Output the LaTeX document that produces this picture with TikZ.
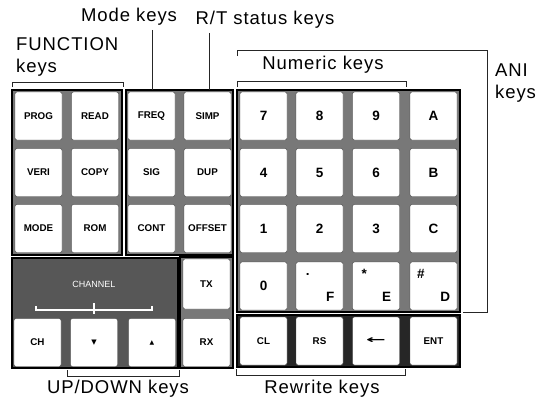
\documentclass[tikz,border=0pt]{standalone}
\usepackage{fontspec}
\setmainfont{Liberation Sans}
\newfontfamily\lblfont[LetterSpace=5]{Liberation Sans}
\newfontfamily\symfont{DejaVu Sans}
\usetikzlibrary{positioning, calc}

\definecolor{keygap}{gray}{0.47}
\definecolor{chanbg}{gray}{0.34}

\begin{document}
\begin{tikzpicture}[x=1pt, y=-1pt]
    \tikzstyle{keybox} = [rectangle, draw=black!75, fill=white, rounded corners=2pt,
                          minimum width=47pt, minimum height=48pt, inner sep=0pt,
                          font=\bfseries\fontsize{9.8}{11}\selectfont]
    \tikzstyle{numkey} = [keybox, font=\bfseries\fontsize{13.5}{14}\selectfont]
    \tikzstyle{blockbg} = [draw=black, line width=1.6pt, fill=keygap]
    \tikzstyle{lbl} = [font=\lblfont\fontsize{18.5}{22}\selectfont, inner sep=0pt]
    \tikzstyle{brk} = [draw=black!85, line width=0.8pt]
    \tikzstyle{corner} = [font=\bfseries\fontsize{13.5}{14}\selectfont, inner sep=0pt]

    \useasboundingbox (0,0) rectangle (543,397);

    % backing plates
    \draw[blockbg] (12,90) rectangle (122,255);
    \draw[blockbg] (126,90) rectangle (233,255);
    \draw[blockbg] (237,90) rectangle (460,312);
    \draw[blockbg, fill=black!85] (237,315) rectangle (460,367);
    \draw[blockbg, fill=chanbg] (12,258) rectangle (178,368);
    \draw[blockbg] (180,257) rectangle (233,368);

    % FUNCTION keys
    \node [keybox] (prog) at (38.5,116) {PROG};
    \node [keybox] (read) at (95,116) {READ};
    \node [keybox] (veri) at (38.5,172.5) {VERI};
    \node [keybox] (copy) at (95,172.5) {COPY};
    \node [keybox] (mode) at (38.5,228.5) {MODE};
    \node [keybox] (rom) at (95,228.5) {ROM};

    % mode and R/T status keys
    \node [keybox] (freq) at (151.5,116) {FREQ};
    \node [keybox] (simp) at (207.5,116) {SIMP};
    \node [keybox] (sig) at (151.5,172.5) {SIG};
    \node [keybox] (dup) at (207.5,172.5) {DUP};
    \node [keybox] (cont) at (151.5,228.5) {CONT};
    \node [keybox] (offset) at (207.5,228.5) {OFFSET};

    % numeric and ANI keys
    \node [numkey] (k7) at (263.5,116) {7};
    \node [numkey] (k8) at (319.5,116) {8};
    \node [numkey] (k9) at (376,116) {9};
    \node [numkey] (ka) at (433.5,116) {A};
    \node [numkey] (k4) at (263.5,172.5) {4};
    \node [numkey] (k5) at (319.5,172.5) {5};
    \node [numkey] (k6) at (376,172.5) {6};
    \node [numkey] (kb) at (433.5,172.5) {B};
    \node [numkey] (k1) at (263.5,228.5) {1};
    \node [numkey] (k2) at (319.5,228.5) {2};
    \node [numkey] (k3) at (376,228.5) {3};
    \node [numkey] (kc) at (433.5,228.5) {C};
    \node [numkey] (k0) at (263.5,286) {0};
    \node [numkey] (kf) at (319.5,286) {};
    \node [numkey] (ke) at (376,286) {};
    \node [numkey] (kd) at (433.5,286) {};
    \node [corner] (kfdot) at ($(kf.north west)+(12,13)$) {.};
    \node [corner] (kflet) at ($(kf.south east)+(-13,-13)$) {F};
    \node [corner] (kestar) at ($(ke.north west)+(12,12)$) {*};
    \node [corner] (kelet) at ($(ke.south east)+(-13,-13)$) {E};
    \node [corner] (kdhash) at ($(kd.north west)+(11,12)$) {\#};
    \node [corner] (kdlet) at ($(kd.south east)+(-12,-13)$) {D};

    % rewrite keys
    \node [keybox] (cl) at (263.5,341) {CL};
    \node [keybox] (rs) at (319.5,341) {RS};
    \node [keybox] (back) at (376,341) {\symfont\bfseries\scalebox{2.4}[1.1]{←}};
    \node [keybox] (ent) at (433.5,341) {ENT};

    % channel keys
    \node [font=\fontsize{9}{10}\selectfont, text=white] (chan) at (94,284) {CHANNEL};
    \draw[white, line width=1.2pt] (36,306) -- (36,310) -- (152,310) -- (152,306);
    \draw[white, line width=1.2pt] (94,303) -- (94,314);
    \node [keybox] (ch) at (37.5,342.5) {CH};
    \node [keybox] (down) at (94,342.5) {\symfont\fontsize{7}{8}\selectfont ▼};
    \node [keybox] (up) at (152,342.5) {\symfont\fontsize{6}{7}\selectfont ▲};
    \node [keybox, minimum height=50pt] (tx) at (206.5,284) {TX};
    \node [keybox] (rx) at (206.5,342.5) {RX};

    % labels
    \node [lbl, align=left, anchor=west] (fnlbl) at (16,57) {FUNCTION\\keys};
    \node [lbl] (modelbl) at (129,17) {Mode keys};
    \node [lbl] (rtlbl) at (265,20) {R/T status keys};
    \node [lbl] (numlbl) at (323,65) {Numeric keys};
    \node [lbl, align=left, anchor=west] (anilbl) at (495,83) {ANI\\keys};
    \node [lbl] (udlbl) at (118,389) {UP/DOWN keys};
    \node [lbl] (rwlbl) at (322,389) {Rewrite keys};

    % leaders and brackets
    \coordinate (modetip) at (152,90);
    \coordinate (rttip) at (209,90);
    \draw[brk] (modelbl.south -| modetip) ++(0,4) -- (modetip);
    \draw[brk] (rtlbl.south -| rttip) ++(0,4) -- (rttip);
    \draw[brk] (12,87) -- (12,82) -- (123,82) -- (123,87);
    \draw[brk] (237,87) -- (237,81) -- (406,81) -- (406,87);
    \draw[brk] (237,56) -- (237,50) -- (487,50) -- (487,312) -- (463,312);
    \draw[brk] (67,370) -- (67,376) -- (179,376) -- (179,370);
    \draw[brk] (236,369) -- (236,375) -- (405,375) -- (405,369);
\end{tikzpicture}
\end{document}
